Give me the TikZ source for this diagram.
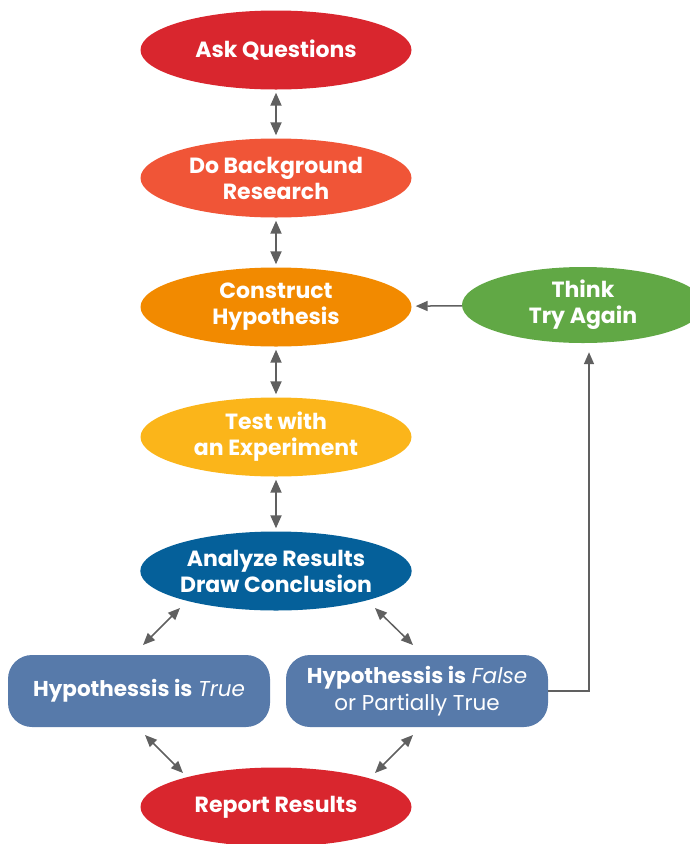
\documentclass[tikz,border=0pt]{standalone}
\usepackage{fontspec}
\setmainfont{Poppins}
\usetikzlibrary{shapes.geometric,arrows.meta}
\definecolor{cred}{HTML}{D9262E}
\definecolor{corg}{HTML}{F05537}
\definecolor{camb}{HTML}{F28A00}
\definecolor{cyel}{HTML}{FBB51A}
\definecolor{cblu}{HTML}{05609A}
\definecolor{cgrn}{HTML}{61A845}
\definecolor{cbox}{HTML}{577AAA}
\definecolor{cgry}{HTML}{606060}
\tikzset{
  oval/.style={ellipse, minimum width=271pt, minimum height=79pt, inner sep=0pt,
    text=white, font=\fontsize{22}{26}\selectfont\bfseries, align=center},
  rbox/.style={rounded corners=24pt, minimum width=262pt, minimum height=72pt, inner sep=0pt,
    fill=cbox, text=white, font=\fontsize{21.5}{27}\selectfont, align=center},
  dbl/.style={cgry, line width=2pt, {Triangle[length=13pt,width=11pt]}-{Triangle[length=13pt,width=11pt]}},
  dbls/.style={cgry, line width=1.5pt, {Triangle[length=12pt,width=10pt]}-{Triangle[length=12pt,width=10pt]}},
  arr/.style={cgry, line width=1.5pt, -{Triangle[length=12pt,width=10pt]}},
}
\begin{document}
\begin{tikzpicture}[x=1pt,y=-1pt]
\useasboundingbox (0,0) rectangle (689,844);
\node[oval, fill=cred] (ask) at (276,50) {Ask Questions};
\node[oval, fill=corg] (bg) at (276,178) {Do Background\\Research};
\node[oval, fill=camb] (con) at (276,307) {Construct\\Hypothesis};
\node[oval, fill=cyel] (test) at (276,437) {Test with\\an Experiment};
\node[oval, fill=cblu] (an) at (276,571) {Analyze Results\\Draw Conclusion};
\node[oval, fill=cred] (rep) at (276,807) {Report Results};
\node[oval, fill=cgrn, minimum width=242pt, minimum height=76pt] (think) at (583,305) {Think\\Try Again};
\node[rbox] (ht) at (139,691) {\textbf{Hypothessis is} \textit{True}};
\node[rbox] (hf) at (417,691) {\textbf{Hypothessis is} \textit{False}\\or Partially True};

\draw[dbl, shorten <=3pt, shorten >=3pt] (ask) -- (bg);
\draw[dbl, shorten <=3pt, shorten >=3pt] (bg) -- (con);
\draw[dbl, shorten <=3pt, shorten >=3pt] (con) -- (test);
\draw[dbl, shorten <=3pt, shorten >=3pt] (test) -- (an);

\coordinate (d1a) at (180,608); \coordinate (d1b) at (143,645);
\coordinate (d2a) at (375,608); \coordinate (d2b) at (413,645);
\coordinate (d3a) at (145,735); \coordinate (d3b) at (183,773);
\coordinate (d4a) at (413,735); \coordinate (d4b) at (375,773);
\draw[dbls] (d1a) -- (d1b);
\draw[dbls] (d2a) -- (d2b);
\draw[dbls] (d3a) -- (d3b);
\draw[dbls] (d4a) -- (d4b);

\draw[arr, shorten >=4pt] (think) -- (con);
\draw[arr, shorten >=9pt] (hf.east) -| ([xshift=6pt]think.south);
\end{tikzpicture}
\end{document}
